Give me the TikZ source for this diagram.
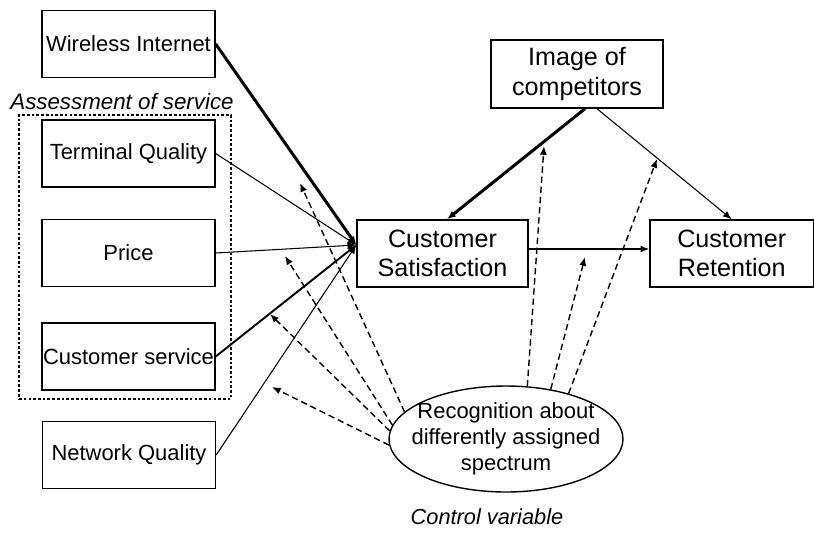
\documentclass[tikz,border=0pt]{standalone}
\usepackage{fontspec}
\setmainfont{Liberation Sans}
\usetikzlibrary{shapes.geometric, arrows.meta}
\tikzset{>={Latex[length=5pt, width=4pt]}}
\tikzset{
	box/.style={draw, line width=0.8pt, minimum width=3.46cm, minimum height=1.34cm, inner sep=0pt, font=\fontsize{12.5}{15}\selectfont},
	bigbox/.style={box, align=center, font=\fontsize{14.3}{16.8}\selectfont},
	ctrl/.style={->, line width=0.8pt, dash pattern=on 3.6pt off 2.2pt}
}

\begin{document}
\begin{tikzpicture}[x=0.02cm, y=-0.02cm]
    \useasboundingbox (0, 0) rectangle (814, 532);
    % services
    \node[draw, line width=0.8pt, dash pattern=on 1.5pt off 1.2pt, minimum width=4.24cm, minimum height=5.68cm, inner sep=0pt](grp) at(125, 257){};
    \node[font=\fontsize{12.7}{15}\selectfont\itshape](grplbl) at(122, 102){Assessment of service};
    \node[box](wi) at(128.5, 44){Wireless Internet};
    \node[box](tq) at(128.5, 153.5){Terminal Quality};
    \node[box](pr) at(128.5, 253){Price};
    \node[box, text depth=-0.2cm](cs) at(128.5, 356.5){Customer service};
    \node[box](nq) at(129, 455){Network Quality};
    % model
    \node[bigbox, minimum width=3.42cm](sat) at(442.5, 253.5){Customer\\Satisfaction};
    \node[bigbox, minimum width=3.44cm, minimum height=1.36cm](img) at(577, 74){Image of\\competitors};
    \node[bigbox, minimum width=3.27cm](ret) at(731.75, 253.5){Customer\\Retention};
    \node[draw, ellipse, line width=0.8pt, minimum width=4.68cm, minimum height=2.12cm, inner sep=0pt](ctl) at(506, 439){};
    \node[align=center, font=\fontsize{12.5}{14.8}\selectfont](ctltxt) at(ctl){Recognition about\\differently assigned\\spectrum};
    \node[font=\fontsize{12.4}{15}\selectfont\itshape](ctllbl) at(487, 517){Control variable};
    \coordinate (hub) at([yshift=0.17cm]sat.west);
    \draw[->, line width=1.7pt](wi.east)--(hub);
    \draw[->, line width=0.6pt](tq.east)--(hub);
    \draw[->, line width=0.6pt](pr.east)--(hub);
    \draw[->, line width=1.1pt](cs.east)--(hub);
    \draw[->, line width=0.6pt](nq.east)--(hub);
    \draw[->, line width=1.7pt]([xshift=0.16cm]img.south)--([xshift=0.09cm]sat.north);
    \draw[->, line width=0.6pt]([xshift=0.4cm]img.south)--(ret.north);
    \draw[->, line width=0.8pt]([yshift=0.09cm]sat.east)--([yshift=0.09cm]ret.west);
    % control variable
    \coordinate (t1) at(300, 183);
    \coordinate (t2) at(285, 256);
    \coordinate (t3) at(270, 314);
    \coordinate (t4) at(272, 387);
    \coordinate (t5) at(544, 146);
    \coordinate (t6) at(585, 257);
    \coordinate (t7) at(657, 159);
    \draw[ctrl](ctl.165)--(t1);
    \draw[ctrl](ctl.173)--(t2);
    \draw[ctrl](ctl.176)--(t3);
    \draw[ctrl](ctl.183)--(t4);
    \draw[ctrl](ctl.68)--(t5);
    \draw[ctrl](ctl.48)--(t6);
    \draw[ctrl](ctl.36)--(t7);
\end{tikzpicture}
\end{document}
